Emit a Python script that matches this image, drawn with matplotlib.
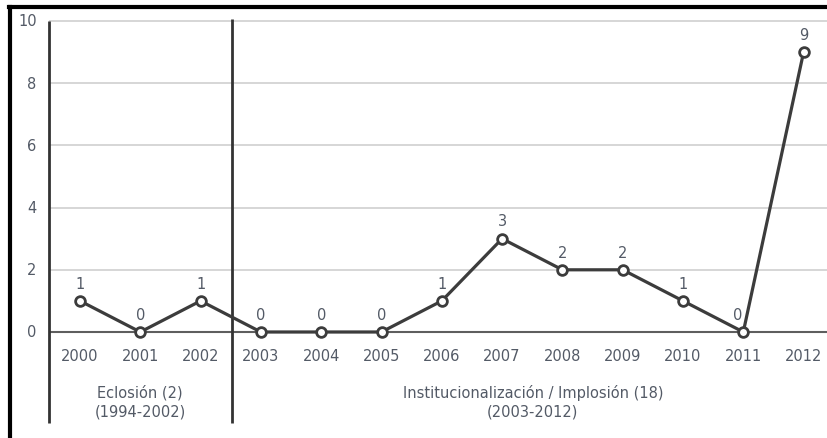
import matplotlib.pyplot as plt
from matplotlib.lines import Line2D

years = ['2000', '2001', '2002', '2003', '2004', '2005', '2006',
         '2007', '2008', '2009', '2010', '2011', '2012']
counts = [1, 0, 1, 0, 0, 0, 1, 3, 2, 2, 1, 0, 9]
y_ticks = [0, 2, 4, 6, 8, 10]
period_names = ['Eclosión (2)', 'Institucionalización / Implosión (18)']
period_spans = ['(1994-2002)', '(2003-2012)']
period_centers = [1.0, 7.51]

W, H = 827, 439
TXT = '#535a66'
FS = 10.5
plt.rcParams['font.family'] = ['DejaVu Sans']

fig = plt.figure(figsize=(W / 100, H / 100), dpi=100)
# plot area: left axis at x=49px, y=0 at 333px, 31.1px per unit
ppu = 31.1
px = 60.3
y_top, y_bot = 10.2, -(424 - 333) / ppu
top_px = 333 - y_top * ppu
ax = fig.add_axes([49 / W, 15 / H, 1 - 49 / W, (424 - top_px) / H])
x_left = -31 / px
ax.set_xlim(x_left, (W - 80) / px)
ax.set_ylim(y_bot, y_top)
ax.axis('off')

x = list(range(len(years)))

for t in y_ticks:
    col, lw = ('#5e5e5e', 1.5) if t == 0 else ('#d0d0d0', 1.2)
    ax.axhline(t, color=col, lw=lw, zorder=1)
    ax.text(-0.72, t, str(t), ha='right', va='center', fontsize=FS, color=TXT)

# left axis line and period divider
ax.plot([x_left, x_left], [y_bot, 10], color='#333333', lw=2, zorder=2,
        solid_capstyle='butt', clip_on=False)
ax.plot([2.52, 2.52], [y_bot, 10.05], color='#333333', lw=2, zorder=2,
        solid_capstyle='butt', clip_on=False)

ax.plot(x, counts, color='#3c3c3c', lw=2.3, marker='o', ms=7,
        mfc='white', mec='#3c3c3c', mew=2, zorder=3, clip_on=False)

for xi, v in zip(x, counts):
    # the label of the last zero sits left of the steep rise
    dx = -0.1 if xi == len(years) - 2 else 0
    ax.text(xi + dx, v + 0.57, str(v), ha='center', va='center',
            fontsize=FS, color=TXT)

for xi, yr in zip(x, years):
    ax.text(xi, -0.74, yr, ha='center', va='center', fontsize=FS, color=TXT)

for cx, name, span in zip(period_centers, period_names, period_spans):
    ax.text(cx, -(393 - 333) / ppu, name, ha='center', va='center',
            fontsize=FS, color=TXT)
    ax.text(cx, -(412 - 333) / ppu, span, ha='center', va='center',
            fontsize=FS, color=TXT)

# black frame on the left and top edges of the crop
fig.add_artist(Line2D([10 / W, 10 / W], [0, 1 - 7.5 / H], color='black', lw=3,
                      transform=fig.transFigure))
fig.add_artist(Line2D([8.5 / W, 1], [1 - 7.5 / H, 1 - 7.5 / H], color='black', lw=3,
                      transform=fig.transFigure))

fig.savefig('out.png', dpi=100, facecolor='white')
